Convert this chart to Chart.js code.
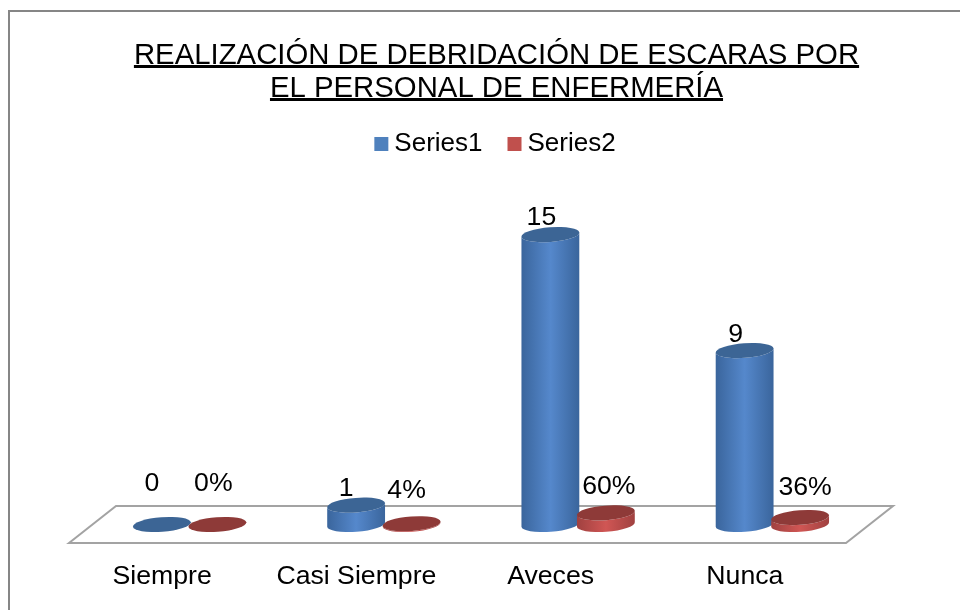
<!DOCTYPE html>
<html>
<head>
<meta charset="utf-8">
<style>html,body{margin:0;padding:0;background:#fff}#w{width:960px;height:610px}</style>
<script src="https://cdn.jsdelivr.net/npm/chart.js@4"></script>
</head>
<body>
<div id="w"><canvas id="c" width="960" height="610"></canvas></div>
<script>
const categories = ["Siempre", "Casi Siempre", "Aveces", "Nunca"];
const series1 = [0, 1, 15, 9];
const series2 = [0, 0.04, 0.6, 0.36];
const titleLines = ["REALIZACIÓN DE DEBRIDACIÓN DE ESCARAS POR", "EL PERSONAL DE ENFERMERÍA"];

const FONT = '"Liberation Sans", Arial, sans-serif';
const FS = 26.67, TITLE_FS = 29.33, TITLE_LH = 1.125, LEGEND_FS = 26;
// hand-placed label offsets (relative to the top of each bar)
const labelShift = [
  [[-10,-41],[-10,-17],[-9,-16.5],[-9,-16]],
  [[-4,-41],[-5,-33],[3,-26],[5,-30]]
];
const palette = [
  {legend:'#4f81bd', edge:'#3a659c', mid:'#5588cc', top:'#3c6595'},
  {legend:'#c0504d', edge:'#a04140', mid:'#d05654', top:'#8e3a38'}
];

const painter = {
  id:'painter',
  afterLayout(chart){
    const tb=chart.titleBlock, lg=chart.legend;
    tb.left+=15.5; tb.right+=15.5;
    lg.left+=14; lg.right+=14;
  },
  beforeDraw(chart){
    const c = chart.ctx;
    c.save();
    c.fillStyle='#fff'; c.fillRect(0,0,960,610);
    c.strokeStyle='#868686'; c.lineWidth=2;
    c.beginPath(); c.moveTo(9,611); c.lineTo(9,11); c.lineTo(961,11); c.stroke();
    c.restore();
  },
  beforeDatasetsDraw(chart){
    const c = chart.ctx, a = chart.chartArea, y0 = chart.scales.y.getPixelForValue(0);
    const d=18.5;
    c.save();
    c.strokeStyle='#a3a3a3'; c.lineWidth=2;
    c.beginPath();
    c.moveTo(a.left-23.5, y0+d); c.lineTo(a.left+23.5, y0-d);
    c.lineTo(a.right+23.5, y0-d); c.lineTo(a.right-23.5, y0+d); c.closePath(); c.stroke();
    c.restore();
  },
  afterDatasetsDraw(chart){
    const c = chart.ctx;
    const rot=-0.075, b=7.3;
    categories.forEach((_,i)=>{
      [0,1].forEach(ds=>{
        const el = chart.getDatasetMeta(ds).data[i], p = palette[ds];
        const x=el.x, top=el.y, base=el.base, r=el.width/2;
        c.save();
        if(base-top>0.5){
          const g=c.createLinearGradient(x-r,0,x+r,0);
          g.addColorStop(0,p.edge); g.addColorStop(0.5,p.mid); g.addColorStop(1,p.edge);
          c.fillStyle=g;
          c.beginPath();
          c.ellipse(x,base,r,b,rot,0,Math.PI);
          c.ellipse(x,top,r,b,rot,Math.PI,0,true);
          c.closePath(); c.fill();
        }
        c.fillStyle=p.top;
        c.beginPath(); c.ellipse(x,top,r,b,rot,0,Math.PI*2); c.fill();
        c.restore();
      });
    });
    // data labels
    c.save();
    c.font=FS+'px '+FONT; c.fillStyle='#000'; c.textAlign='center'; c.textBaseline='middle';
    categories.forEach((_,i)=>{
      const e1=chart.getDatasetMeta(0).data[i], e2=chart.getDatasetMeta(1).data[i];
      c.fillText(String(series1[i]), e1.x+labelShift[0][i][0], e1.y+labelShift[0][i][1]);
      c.fillText(Math.round(series2[i]*100)+'%', e2.x+labelShift[1][i][0], e2.y+labelShift[1][i][1]);
    });
    c.restore();
  },
  afterDraw(chart){
    const c=chart.ctx, tb=chart.titleBlock, lg=chart.legend;
    c.save();
    // title underlines
    const lh=TITLE_FS*TITLE_LH, pt=tb.options.padding.top||0, mid=(tb.left+tb.right)/2;
    c.font=TITLE_FS+'px '+FONT; c.fillStyle='#000';
    titleLines.forEach((t,i)=>{
      const w=c.measureText(t).width, cy=tb.top+pt+lh*(i+0.5);
      c.fillRect(mid-w/2, Math.round(cy+10), w, 3);
    });
    // legend swatches
    lg.legendHitBoxes.forEach((h,i)=>{
      c.fillStyle=palette[i].legend;
      c.fillRect(h.left, h.top+h.height/2-7, 14, 14);
    });
    c.restore();
  }
};

new Chart(document.getElementById('c'),{
  type:'bar',
  data:{labels:categories,datasets:[
    {label:'Series1',data:series1,backgroundColor:'rgba(0,0,0,0)',categoryPercentage:0.5714,barPercentage:1.045},
    {label:'Series2',data:series2,backgroundColor:'rgba(0,0,0,0)',categoryPercentage:0.5714,barPercentage:1.045}
  ]},
  plugins:[painter],
  options:{
    responsive:false,animation:false,
    layout:{padding:{left:92.5,right:90.5,top:30,bottom:15.5}},
    plugins:{
      tooltip:{enabled:false},
      title:{display:true,text:titleLines,color:'#000',align:'center',
        font:{family:FONT,size:TITLE_FS,lineHeight:TITLE_LH,weight:'normal'},padding:{top:9,bottom:1}},
      legend:{display:true,position:'top',
        labels:{boxWidth:7,boxHeight:14,padding:25,color:'#000',font:{family:FONT,size:LEGEND_FS},
          generateLabels(ch){return ch.data.datasets.map((d,i)=>({text:d.label,fillStyle:'rgba(0,0,0,0)',strokeStyle:'rgba(0,0,0,0)',lineWidth:0,datasetIndex:i}));}}}
    },
    scales:{
      x:{grid:{display:false},border:{display:false},
        afterFit(s){s.height=70;},
        ticks:{color:'#000',font:{family:FONT,size:FS},padding:28.5,labelOffset:-27.5,maxRotation:0}},
      y:{display:false,min:0,max:18.5,grid:{display:false}}
    }
  }
});
</script>
</body>
</html>
